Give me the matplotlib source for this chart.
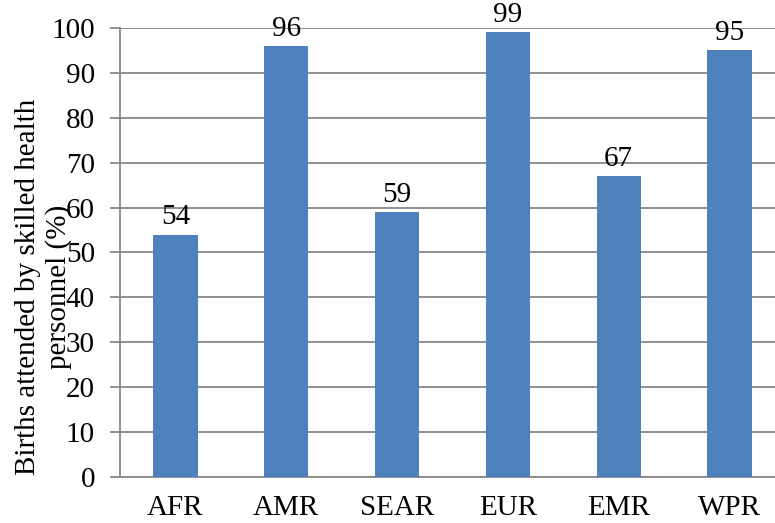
import matplotlib.pyplot as plt
import numpy as np

plt.rcParams['font.family'] = ['Liberation Serif', 'DejaVu Serif']

regions = ['AFR', 'AMR', 'SEAR', 'EUR', 'EMR', 'WPR']
births_pct = [54, 96, 59, 99, 67, 95]
y_ticks = [0, 10, 20, 30, 40, 50, 60, 70, 80, 90, 100]

bar_color = '#4F81BD'
grid_color = '#878787'
fs = 21

fig = plt.figure(figsize=(7.75, 5.23), dpi=100)
ax = fig.add_axes([0.1548, 0.088, 0.858, 0.8585])

x = np.arange(len(regions))
bars = ax.bar(x, births_pct, width=0.4, color=bar_color, zorder=3)

for bar, val in zip(bars, births_pct):
    ax.annotate(str(val), (bar.get_x() + bar.get_width() / 2, val),
                xytext=(0, 3), textcoords='offset points',
                ha='center', va='bottom', fontsize=fs, zorder=4)

ax.set_xlim(-0.5, len(regions) - 0.5)
ax.set_ylim(0, 100)
ax.set_yticks(y_ticks)
ax.set_xticks(x)
ax.set_xticklabels(regions)

ax.yaxis.grid(True, color=grid_color, linewidth=1.3, zorder=0)
ax.set_axisbelow(True)

for side in ['top', 'right']:
    ax.spines[side].set_visible(False)
for side in ['left', 'bottom']:
    ax.spines[side].set_color(grid_color)
    ax.spines[side].set_linewidth(1.3)

ax.tick_params(axis='y', length=7, width=1.3, color=grid_color, pad=11, labelsize=fs)
ax.tick_params(axis='x', length=0, pad=13, labelsize=fs)

fig.text(0.056, 0.451, 'Births attended by skilled health\npersonnel (%)',
         rotation=90, ha='center', va='center', multialignment='center',
         fontsize=fs, linespacing=1.2)

fig.savefig('out.png', dpi=100)
